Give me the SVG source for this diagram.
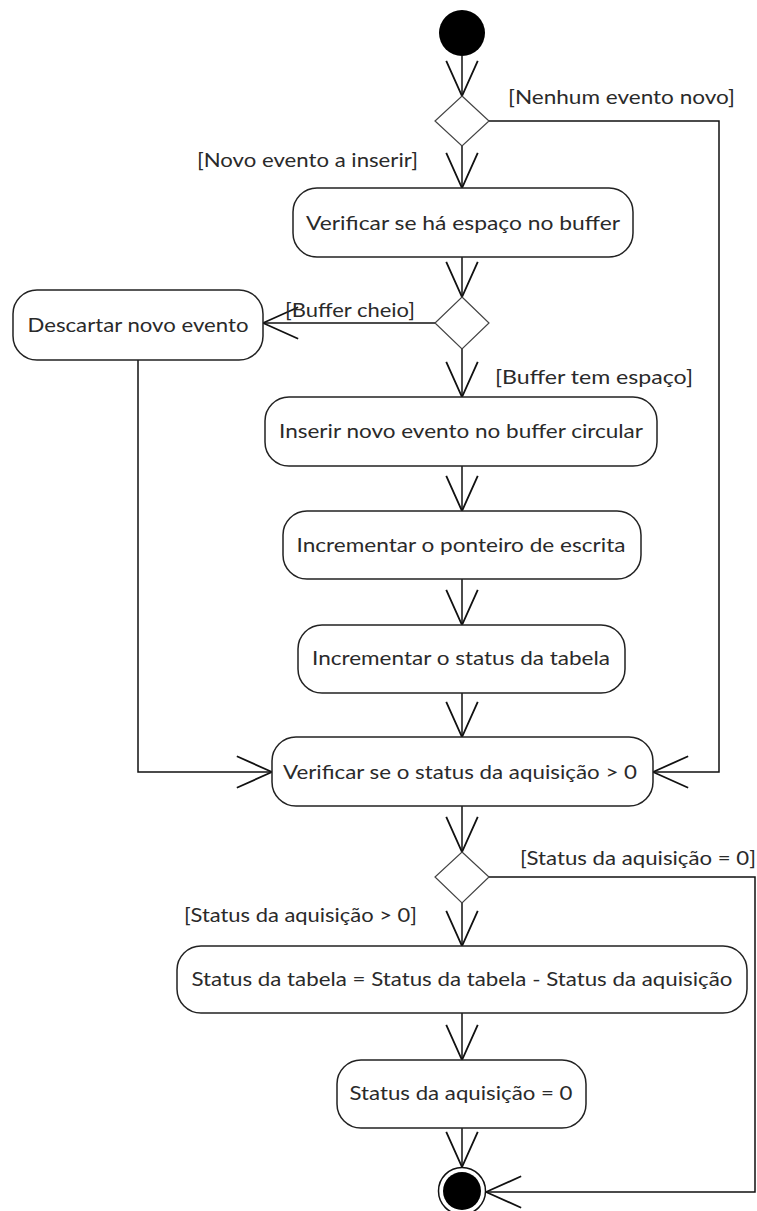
<svg xmlns="http://www.w3.org/2000/svg" width="757" height="1211" viewBox="0 0 757 1211">
<defs>
<style>
.box{fill:#fff;stroke:#222;stroke-width:1.5}
.dia{fill:#fff;stroke:#444;stroke-width:1.2}
.t{font-family:Lato,"Open Sans","Liberation Sans",sans-serif;font-size:19px;fill:#2a2a2a}
.m{text-anchor:middle}
.c{fill:none;stroke:#111;stroke-width:1.5}
</style>
<marker id="ah" markerUnits="userSpaceOnUse" markerWidth="40" markerHeight="40" viewBox="-31 -15 33 30" refX="0" refY="0" orient="auto">
<path d="M-29,-13 L0,0 L-29,13" fill="none" stroke="#111" stroke-width="1.5"/>
</marker>
</defs>
<rect width="757" height="1211" fill="#fff"/>
<g id="connectors">
<path class="c" d="M462,56 V96" marker-end="url(#ah)"/>
<path class="c" d="M489,121 H719 V772 H653" marker-end="url(#ah)"/>
<path class="c" d="M462,146 V188" marker-end="url(#ah)"/>
<path class="c" d="M462,257 V297" marker-end="url(#ah)"/>
<path class="c" d="M435,323 H263" marker-end="url(#ah)"/>
<path class="c" d="M462,349 V397" marker-end="url(#ah)"/>
<path class="c" d="M138,360 V772 H272" marker-end="url(#ah)"/>
<path class="c" d="M462,466 V511" marker-end="url(#ah)"/>
<path class="c" d="M462,579 V625" marker-end="url(#ah)"/>
<path class="c" d="M462,693 V737" marker-end="url(#ah)"/>
<path class="c" d="M462,806 V852" marker-end="url(#ah)"/>
<path class="c" d="M489,877 H755 V1192 H486" marker-end="url(#ah)"/>
<path class="c" d="M462,903 V946" marker-end="url(#ah)"/>
<path class="c" d="M462,1013 V1060" marker-end="url(#ah)"/>
<path class="c" d="M462,1128 V1167" marker-end="url(#ah)"/>
<text class="t" x="508" y="104" textLength="227" lengthAdjust="spacingAndGlyphs">[Nenhum evento novo]</text>
<text class="t" x="197" y="167" textLength="221" lengthAdjust="spacingAndGlyphs">[Novo evento a inserir]</text>
<text class="t" x="285" y="317" textLength="130" lengthAdjust="spacingAndGlyphs">[Buffer cheio]</text>
<text class="t" x="495" y="384" textLength="198" lengthAdjust="spacingAndGlyphs">[Buffer tem espaço]</text>
<text class="t" x="520" y="865" textLength="236" lengthAdjust="spacingAndGlyphs">[Status da aquisição = 0]</text>
<text class="t" x="184" y="922" textLength="233" lengthAdjust="spacingAndGlyphs">[Status da aquisição &gt; 0]</text>
</g>
<g id="start"><circle cx="462" cy="33" r="23" fill="#000"/></g>
<g id="decision1"><polygon class="dia" points="462,96 489,121 462,146 435,121"/></g>
<g id="verificar-espaco">
<rect class="box" x="293" y="188" width="340" height="69" rx="24"/>
<text class="t m" x="463" y="230" textLength="314" lengthAdjust="spacingAndGlyphs">Verificar se há espaço no buffer</text>
</g>
<g id="decision2"><polygon class="dia" points="462,297 489,323 462,349 435,323"/></g>
<g id="descartar">
<rect class="box" x="13" y="290" width="250" height="70" rx="24"/>
<text class="t m" x="138" y="332" textLength="221" lengthAdjust="spacingAndGlyphs">Descartar novo evento</text>
</g>
<g id="inserir">
<rect class="box" x="265" y="397" width="392" height="69" rx="24"/>
<text class="t m" x="461" y="438" textLength="364" lengthAdjust="spacingAndGlyphs">Inserir novo evento no buffer circular</text>
</g>
<g id="incrementar-ponteiro">
<rect class="box" x="283" y="511" width="358" height="68" rx="24"/>
<text class="t m" x="461" y="552" textLength="329" lengthAdjust="spacingAndGlyphs">Incrementar o ponteiro de escrita</text>
</g>
<g id="incrementar-status">
<rect class="box" x="298" y="625" width="327" height="68" rx="24"/>
<text class="t m" x="461" y="665" textLength="298" lengthAdjust="spacingAndGlyphs">Incrementar o status da tabela</text>
</g>
<g id="verificar-status">
<rect class="box" x="272" y="737" width="381" height="69" rx="24"/>
<text class="t m" x="460" y="779" textLength="354" lengthAdjust="spacingAndGlyphs">Verificar se o status da aquisição &gt; 0</text>
</g>
<g id="decision3"><polygon class="dia" points="462,852 489,877 462,903 435,877"/></g>
<g id="status-tabela">
<rect class="box" x="177" y="946" width="570" height="67" rx="24"/>
<text class="t m" x="462" y="986" textLength="541" lengthAdjust="spacingAndGlyphs">Status da tabela = Status da tabela - Status da aquisição</text>
</g>
<g id="status-aquisicao">
<rect class="box" x="337" y="1060" width="249" height="68" rx="24"/>
<text class="t m" x="461" y="1100" textLength="223" lengthAdjust="spacingAndGlyphs">Status da aquisição = 0</text>
</g>
<g id="end">
<circle cx="462" cy="1191" r="23.5" fill="#fff" stroke="#111" stroke-width="1.5"/>
<circle cx="462" cy="1191" r="19" fill="#000"/>
</g>
</svg>
